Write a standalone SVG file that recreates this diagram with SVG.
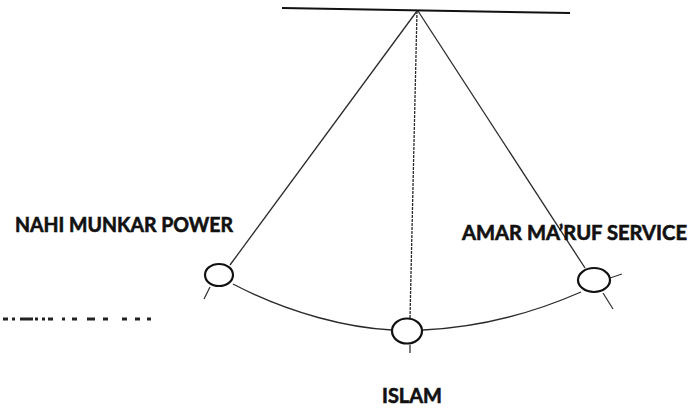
<svg xmlns="http://www.w3.org/2000/svg" width="688" height="409" viewBox="0 0 688 409">
<style>
.str{stroke:#2a2a2a;stroke-width:1.3;fill:none}
.bob{stroke:#111;stroke-width:2.2;fill:#fff}
.tick{stroke:#333;stroke-width:1.3;fill:none}
.lbl{font-family:Lato,"Open Sans","Liberation Sans",sans-serif;font-weight:bold;font-size:20px;fill:#111;stroke:#111;stroke-width:0.6}
</style>
<rect width="688" height="409" fill="#fff"/>
<g id="connectors">
<line id="beam" x1="282" y1="8" x2="570" y2="13" stroke="#111" stroke-width="2"/>
<line class="str" x1="417" y1="11" x2="230" y2="265"/>
<line class="str" x1="417" y1="11" x2="410" y2="318" stroke-dasharray="3 1"/>
<line class="str" x1="418" y1="11" x2="585" y2="268"/>
<path class="str" d="M233,284 C290,314 350,328 392,330"/>
<path class="str" d="M423,330 C485,327 540,310 581,292"/>
<line class="tick" x1="210" y1="287" x2="204" y2="299"/>
<line class="tick" x1="410" y1="345" x2="410" y2="353"/>
<line class="tick" x1="610" y1="278" x2="622" y2="274"/>
<line class="tick" x1="603" y1="293" x2="613" y2="309"/>
<path d="M3,319H8M12,319H15M20,319H33M35,319H38M42,319H45M48,319H53M62,319H65M72,319H77M87,319H95M103,319H108M122,319H127M135,319H140M147,319H151" stroke="#222" stroke-width="3" fill="none"/>
</g>
<g id="nahi-munkar">
<ellipse class="bob" cx="219" cy="275" rx="14" ry="11"/>
<text class="lbl" x="15" y="232" textLength="218" lengthAdjust="spacingAndGlyphs">NAHI MUNKAR POWER</text>
</g>
<g id="islam">
<ellipse class="bob" cx="407" cy="331" rx="15" ry="12.5"/>
<text class="lbl" x="382" y="403" textLength="60" lengthAdjust="spacingAndGlyphs">ISLAM</text>
</g>
<g id="amar-maruf">
<ellipse class="bob" cx="594" cy="280" rx="16" ry="12"/>
<text class="lbl" x="462" y="240" textLength="225" lengthAdjust="spacingAndGlyphs">AMAR MA’RUF SERVICE</text>
</g>
</svg>
